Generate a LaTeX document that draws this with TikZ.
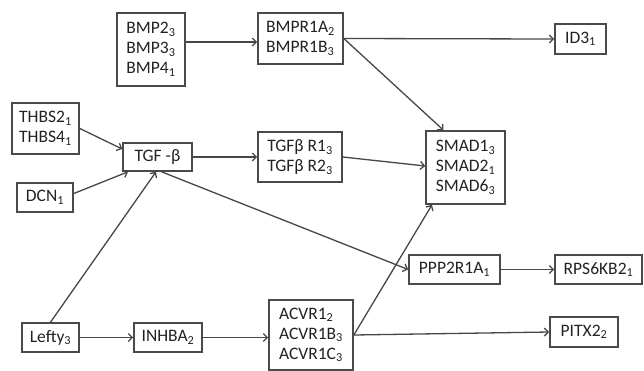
\documentclass[tikz,border=0pt]{standalone}
\usepackage{fontspec}
\setmainfont{Carlito}
\usetikzlibrary{arrows.meta}
\definecolor{boxgray}{HTML}{4A4A4A}
\definecolor{linegray}{HTML}{474747}
\definecolor{txtgray}{HTML}{222222}
\newcommand\lvl[1]{\textsubscript{#1}}

\begin{document}
\begin{tikzpicture}[x=1pt,y=-1pt]
  \tikzset{gene/.style={draw=boxgray, line width=1.6pt, align=left, inner sep=0pt,
      text=txtgray, font=\fontsize{17.5}{20}\selectfont},
    link/.style={->, draw=linegray, line width=1.3pt},
    >={Straight Barb[length=4pt,width=8pt]}}
  \fill[white] (0,0) rectangle (644,370);
  \useasboundingbox (0,0) rectangle (644,370);

  % ligands
  \node[gene, minimum width=68pt, minimum height=73pt] (bmp) at (151,49.5)
    {BMP2\lvl{3}\\BMP3\lvl{3}\\BMP4\lvl{1}};
  \node[gene, minimum width=67pt, minimum height=51pt] (thbs) at (45.5,128.5)
    {THBS2\lvl{1}\\THBS4\lvl{1}};
  \node[gene, minimum width=56pt, minimum height=29pt] (dcn) at (45,197.5) {DCN\lvl{1}};
  \node[gene, minimum width=69pt, minimum height=28pt] (tgf) at (157.5,157) {TGF -β};
  \node[gene, minimum width=57pt, minimum height=29pt] (lefty) at (50.5,337.5) {Lefty\lvl{3}};
  \node[gene, minimum width=68pt, minimum height=29pt] (inhba) at (168,337.5) {INHBA\lvl{2}};

  % receptors
  \node[gene, minimum width=85pt, minimum height=51pt] (bmpr) at (300.5,38.5)
    {BMPR1A\lvl{2}\\BMPR1B\lvl{3}};
  \node[gene, minimum width=84pt, minimum height=50pt] (tgfr) at (300,157)
    {TGFβ R1\lvl{3}\\TGFβ R2\lvl{3}};
  \node[gene, minimum width=84pt, minimum height=70pt] (acvr) at (311,335)
    {ACVR1\lvl{2}\\ACVR1B\lvl{3}\\ACVR1C\lvl{3}};

  % targets
  \node[gene, minimum width=79pt, minimum height=73pt] (smad) at (465.5,167.5)
    {SMAD1\lvl{3}\\SMAD2\lvl{1}\\SMAD6\lvl{3}};
  \node[gene, minimum width=51pt, minimum height=30pt] (id3) at (580.5,39) {ID3\lvl{1}};
  \node[gene, minimum width=91pt, minimum height=29pt] (ppp) at (454.5,269.5) {PPP2R1A\lvl{1}};
  \node[gene, minimum width=87pt, minimum height=29pt] (rps) at (598.5,269.5) {RPS6KB2\lvl{1}};
  \node[gene, minimum width=68pt, minimum height=30pt] (pitx) at (584,332) {PITX2\lvl{2}};

  \draw[link] ([yshift=7.5pt]bmp.east) -- ([yshift=-3.5pt]bmpr.west);
  \draw[link] (bmpr.east) -- (id3.west);
  \draw[link] (bmpr.east) -- ([xshift=-22pt]smad.north);
  \draw[link] (thbs.east) -- ([yshift=8pt]tgf.west);
  \draw[link] ([yshift=4pt]dcn.east) -- ([xshift=-29.5pt]tgf.south);
  \draw[link] (lefty.north) -- ([xshift=-1.5pt]tgf.south);
  \draw[link] (tgf.east) -- (tgfr.west);
  \draw[link] ([xshift=4pt]tgf.south) -- (ppp.west);
  \draw[link] (tgfr.east) -- ([yshift=1.5pt]smad.west);
  \draw[link] (lefty.east) -- (inhba.west);
  \draw[link] (inhba.east) -- (inhba.east -| acvr.west);
  \draw[link] (acvr.east) -- ([xshift=-33.5pt]smad.south);
  \draw[link] (acvr.east) -- (pitx.west);
  \draw[link] (ppp.east) -- (rps.west);
\end{tikzpicture}
\end{document}
